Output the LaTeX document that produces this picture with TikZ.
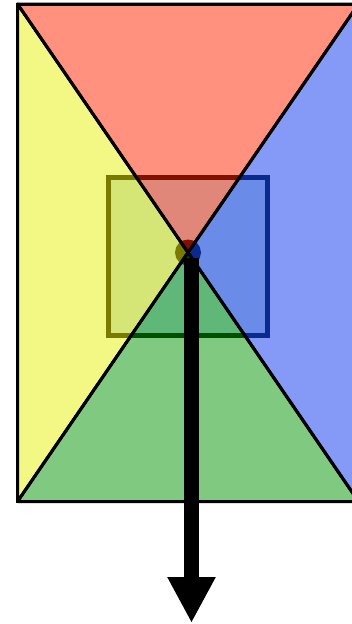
\documentclass[tikz,border=0pt]{standalone}
\usepackage{tikz}
\usetikzlibrary{
    arrows.meta,
    calc
}

% base / inside square / dark edge
\definecolor{red base}{HTML}{FF917E}
\definecolor{red in}{HTML}{E0877A}
\definecolor{red dark}{HTML}{801000}
\definecolor{yellow base}{HTML}{F3F784}
\definecolor{yellow in}{HTML}{D5E677}
\definecolor{yellow dark}{HTML}{7A7A00}
\definecolor{blue base}{HTML}{8599F6}
\definecolor{blue in}{HTML}{6A8CE8}
\definecolor{blue dark}{HTML}{0A2A90}
\definecolor{green base}{HTML}{80C980}
\definecolor{green in}{HTML}{60B878}
\definecolor{green dark}{HTML}{005000}

\begin{document}
\begin{tikzpicture}[x=1pt,y=-1pt,
    edge/.style={draw=black,line width=3pt,line join=round}
]
\useasboundingbox (0,0) rectangle (352,624);
\clip (0,0) rectangle (352,624);

% Corners and centre
\coordinate (tl) at (17.5,4);
\coordinate (tr) at (358.5,4);
\coordinate (bl) at (17.5,501.5);
\coordinate (br) at (358.5,501.5);
\coordinate (o) at (188,252.5);

% Four triangles, each with its part of the square and the dot
\foreach \a/\b/\col in {tl/tr/red,tr/br/blue,br/bl/green,bl/tl/yellow}{
    \begin{scope}
        \clip (\a) -- (\b) -- (o) -- cycle;
        \fill[\col\space base] (\a) -- (\b) -- (o) -- cycle;
        \fill[\col\space dark] (106,175) rectangle (270,338);
        \fill[\col\space in] (111,180) rectangle (265,333);
        \fill[\col\space dark] (o) circle (13);
    \end{scope}
}

% Outlines
\foreach \a/\b in {tl/tr,tr/br,br/bl,bl/tl}
    \draw[edge] (\a) -- (\b) -- (o) -- cycle;
\draw[line width=3pt] (tl) rectangle (br);

% Arrow down
\coordinate (s) at (191.5,258);
\coordinate (tip) at (191.5,623);
\draw[line width=15pt,-{Triangle[width=45pt,length=46pt]}] (s) -- (tip);

\end{tikzpicture}
\end{document}
